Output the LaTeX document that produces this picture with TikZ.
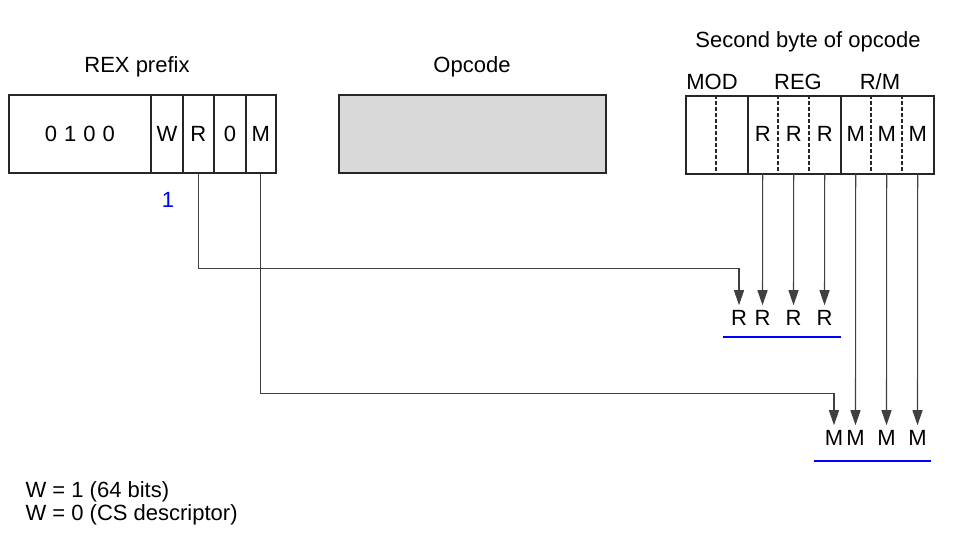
\documentclass[tikz,border=0pt]{standalone}
\usepackage{fontspec}
\setmainfont{Liberation Sans}
\usetikzlibrary{arrows.meta}

\begin{document}
\begin{tikzpicture}[x=1pt,y=-1pt,font=\fontsize{22}{26}\selectfont,
  field/.style={draw=black!85,line width=1.8pt,minimum height=78pt,inner sep=0pt,anchor=north west},
  bitcell/.style={minimum width=31pt,minimum height=78pt,inner sep=0pt,anchor=north west},
  bitsep/.style={draw=black!85,line width=1.8pt,dash pattern=on 4pt off 2pt},
  feed/.style={draw=black!75,line width=1.1pt,-{Triangle[length=15pt,width=10pt]},shorten >=3pt},
  outbit/.style={inner sep=2pt},
  underline/.style={blue,line width=1.6pt}]
\useasboundingbox (0,0) rectangle (969,544);
% Titles
\node (rextitle) at (137,67) {REX prefix};
\node (opctitle) at (472,67) {Opcode};
\node (sbtitle) at (808,42) {Second byte of opcode};
\node (modtitle) at (712,82) {MOD};
\node (regtitle) at (798,82) {REG};
\node (rmtitle) at (880,82) {R/M};
% REX prefix
\node[field,minimum width=142pt] (rex0100) at (8,94) {0\hspace{7pt}1\hspace{7pt}0\hspace{7pt}0\hspace{6pt}};
\node[field,minimum width=32pt] (rexW) at (150,94) {W};
\node[field,minimum width=31pt] (rexR) at (182,94) {R};
\node[field,minimum width=32pt] (rexZ) at (213,94) {0};
\node[field,minimum width=30pt] (rexM) at (245,94) {M};
\node[text=blue] (wval) at (168,200) {1};
% Opcode
\node[field,fill=black!15,minimum width=267pt] (opc) at (338,94) {};
% Second byte
\node[field,minimum width=62pt] (mod) at (685,95) {};
\node[field,minimum width=93pt] (reg) at (747,95) {};
\node[field,minimum width=93pt] (rm) at (840,95) {};
\foreach \x in {716,778,809,871,902}
  \draw[bitsep] (\x,95) -- (\x,173);
\foreach \i/\t in {2/R,3/R,4/R,5/M,6/M,7/M}
  \node[bitcell] (b\i) at ({685+31*\i},95) {\t};
% Extended bits
\foreach \i/\t/\y in {2/R/318,3/R/318,4/R/318,5/M/438,6/M/438,7/M/438}
  \node[outbit] (out\i) at ({700.5+31*\i},\y) {\t};
\node[outbit] (outR) at (739,318) {R};
\node[outbit] (outM) at (834,438) {M};
\foreach \i in {2,...,7}
  \draw[feed] (b\i.south) -- (out\i.north);
\draw[feed] (rexR.south) -- ++(0,95) -| (outR.north);
\draw[feed] (rexM.south) -- ++(0,220) -| (outM.north);
\draw[underline] (723,337) -- (841,337);
\draw[underline] (814,461) -- (931,461);
% Legend
\node[anchor=west] (w1) at (22,492) {W = 1 (64 bits)};
\node[anchor=west] (w0) at (22,515) {W = 0 (CS descriptor)};
\end{tikzpicture}
\end{document}
